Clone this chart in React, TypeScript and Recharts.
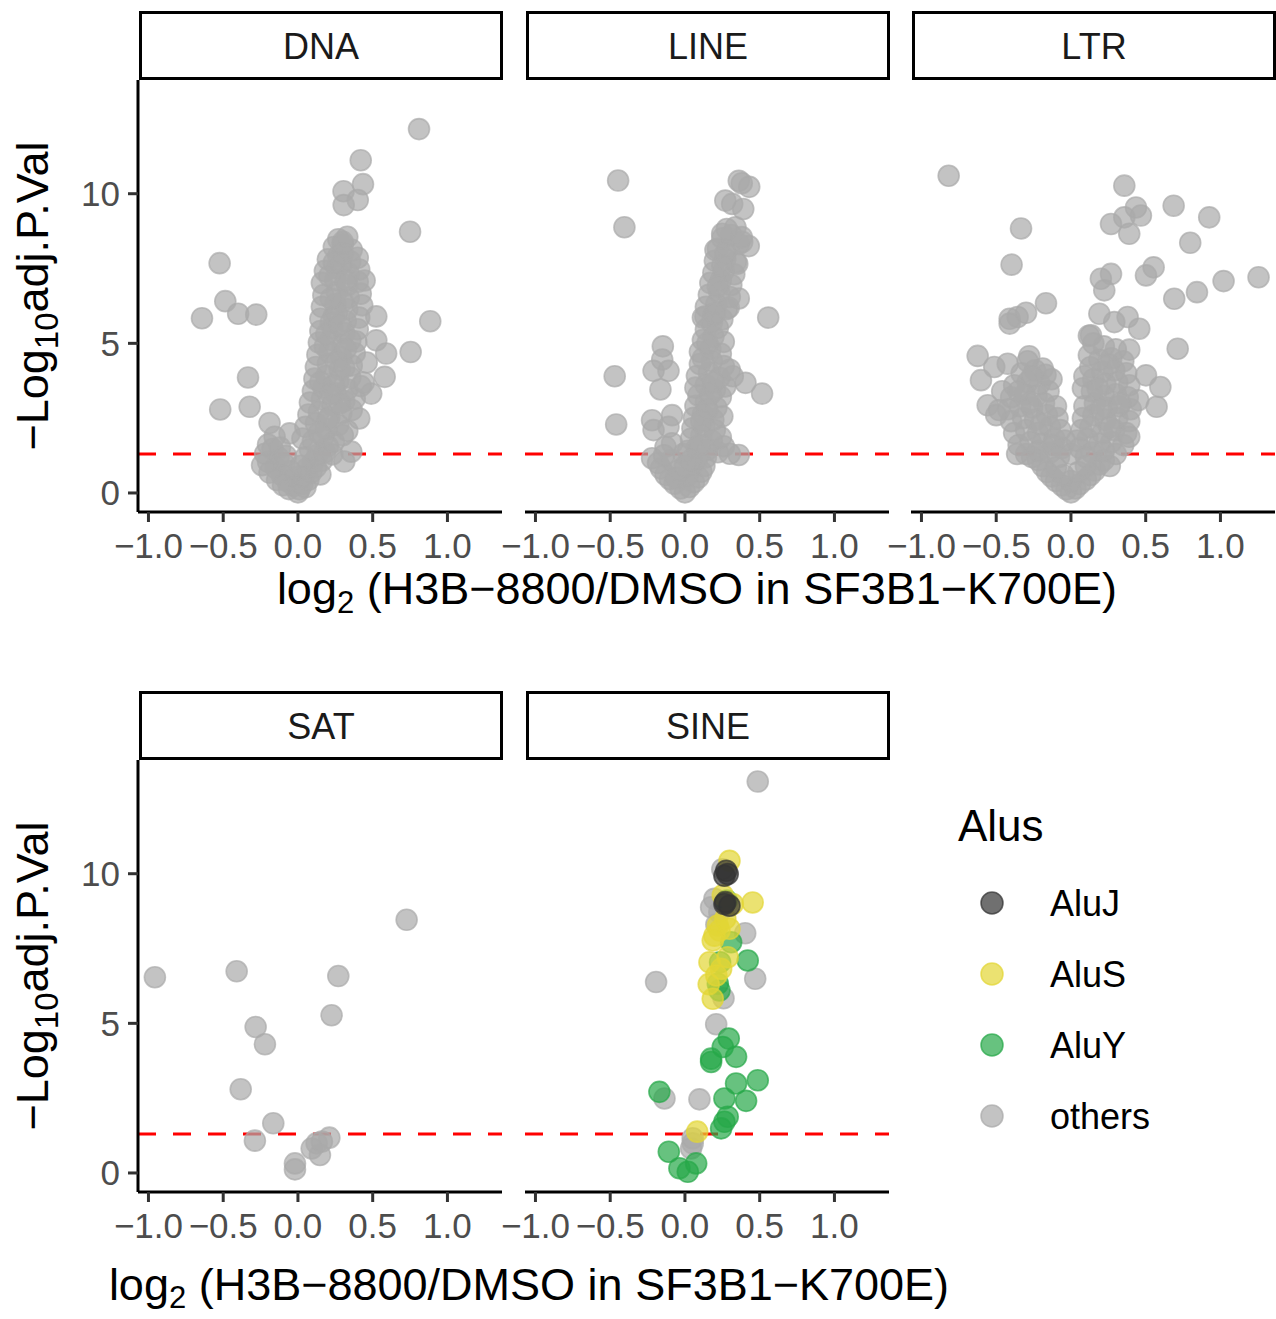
import React from 'react';
import { ScatterChart, Scatter, XAxis, YAxis, ReferenceLine } from 'recharts';

type Pt = [number, number];

// values (x = log2 FC, y = -log10 adj.P.Val)
const dnaPoints: Pt[] = [
  [0.81, 12.16], [0.42, 11.12], [0.435, 10.32], [0.305, 10.08], [0.4, 9.79], [0.306, 9.62],
  [0.75, 8.73], [-0.524, 7.68], [-0.486, 6.41], [-0.642, 5.84], [-0.4, 5.99], [-0.279, 5.96],
  [0.885, 5.74], [0.524, 5.9], [0.754, 4.71], [-0.334, 3.86], [-0.52, 2.79], [-0.323, 2.88],
  [-0.19, 2.34], [-0.056, 1.99], [-0.156, 1.88], [0.59, 4.66], [0.58, 3.88], [0.49, 3.32],
  [0.41, 2.49], [0.357, 1.38], [0.524, 5.1], [0.446, 7.1], [0.31, 1.05],
  [-0.22, 1.31], [-0.2, 1.04], [-0.17, 1.47], [-0.15, 0.84], [-0.13, 1.18], [-0.11, 0.61],
  [-0.09, 0.96], [-0.07, 0.39], [-0.05, 0.72], [-0.03, 0.24], [-0.02, 0.52], [-0.24, 0.93],
  [-0.19, 0.68], [-0.14, 0.43], [-0.1, 0.26], [-0.06, 0.13], [-0.2, 1.62], [-0.12, 1.52], [-0.08, 1.24],
  [0, 0.02], [0.01, 0.12], [0.03, 0.31], [0.05, 0.19], [0.04, 0.56], [0.07, 0.44], [0.06, 0.82],
  [0.09, 0.69], [0.1, 1.02], [0.12, 0.86], [0.13, 1.27], [0.16, 1.08], [0.02, 0.91], [0.05, 1.19],
  [0.08, 1.46], [0.18, 1.36], [0.15, 0.62], [0.2, 1.57], [0.23, 1.29],
  [0.03, 1.82], [0.1, 1.74], [0.17, 1.88], [0.24, 1.71], [0.3, 1.93],
  [0.05, 2.21], [0.12, 2.33], [0.19, 2.14], [0.27, 2.27], [0.33, 2.08],
  [0.07, 2.62], [0.14, 2.71], [0.21, 2.53], [0.29, 2.66], [0.36, 2.77],
  [0.08, 3.02], [0.16, 3.13], [0.23, 2.94], [0.31, 3.07], [0.38, 3.16],
  [0.1, 3.41], [0.17, 3.52], [0.25, 3.33], [0.33, 3.46], [0.42, 3.57],
  [0.11, 3.82], [0.19, 3.91], [0.27, 3.74], [0.35, 3.86], [0.44, 3.69],
  [0.12, 4.21], [0.2, 4.32], [0.28, 4.13], [0.36, 4.26], [0.46, 4.36],
  [0.13, 4.62], [0.21, 4.71], [0.29, 4.54], [0.38, 4.67],
  [0.14, 5.03], [0.22, 5.12], [0.3, 4.94], [0.39, 5.06],
  [0.15, 5.41], [0.23, 5.52], [0.31, 5.34], [0.4, 5.47],
  [0.15, 5.82], [0.24, 5.91], [0.32, 5.74], [0.41, 5.86],
  [0.16, 6.22], [0.25, 6.31], [0.33, 6.14], [0.43, 6.27],
  [0.17, 6.61], [0.26, 6.72], [0.34, 6.53], [0.42, 6.66],
  [0.16, 7.02], [0.25, 7.11], [0.33, 6.94], [0.4, 7.06],
  [0.18, 7.42], [0.26, 7.51], [0.34, 7.33], [0.41, 7.47],
  [0.2, 7.81], [0.27, 7.92], [0.35, 7.74], [0.4, 7.86],
  [0.24, 8.22], [0.3, 8.31], [0.36, 8.13],
  [0.27, 8.48], [0.33, 8.56], [0.3, 8.39],
  [0.2, 2.45], [0.15, 3.7], [0.26, 4.4], [0.22, 5.7], [0.3, 6.4], [0.21, 7.25], [0.29, 7.65],
  [0.28, 3.0], [0.18, 4.9], [0.35, 5.1], [0.26, 6.0], [0.3, 8.0], [0.14, 2.0], [0.24, 3.6], [0.32, 4.8],
  [0.22, 3.3], [0.31, 4.2], [0.19, 5.3], [0.28, 5.6], [0.22, 6.5], [0.32, 7.1], [0.24, 7.7],
];

const linePoints: Pt[] = [
  [-0.447, 10.44], [-0.405, 8.88], [-0.47, 3.9], [-0.46, 2.29], [-0.148, 4.9], [-0.152, 4.46],
  [-0.21, 4.08], [-0.11, 4.08], [-0.164, 3.46], [-0.22, 2.43], [-0.086, 2.6], [-0.21, 2.1],
  [-0.11, 2.21], [-0.22, 1.16], [-0.13, 1.54], [-0.086, 1.66], [0.557, 5.86], [0.405, 3.68],
  [0.516, 3.32], [0.36, 1.27],
  [0.36, 10.43], [0.43, 10.23], [0.38, 10.35], [0.27, 9.77], [0.316, 9.66], [0.39, 9.49],
  [0.338, 8.88], [0.249, 8.66], [0.383, 8.39], [0.427, 8.25], [0.204, 8.12], [0.35, 7.66],
  [0.36, 6.5], [0.293, 6.2], [0.137, 5.9],
  [0, 0.02], [-0.03, 0.15], [0.03, 0.2], [-0.07, 0.31], [0.06, 0.36], [-0.1, 0.46], [0.09, 0.52],
  [-0.13, 0.61], [0.11, 0.71], [-0.16, 0.82], [0.13, 0.9], [-0.18, 1.0], [0.02, 0.6], [-0.04, 0.76],
  [0.05, 0.95], [-0.09, 1.1], [0.14, 1.19], [-0.14, 1.26], [0.08, 1.15], [-0.01, 1.3], [-0.06, 0.5], [0.0, 0.9],
  [0.02, 1.41], [0.08, 1.52], [0.15, 1.44], [0.22, 1.36], [0.3, 1.31], [0.26, 1.56], [0.04, 1.81],
  [0.11, 1.92], [0.18, 1.74], [0.24, 1.86], [0.05, 2.16], [0.13, 2.22], [0.2, 2.1],
  [0.06, 2.51], [0.12, 2.62], [0.19, 2.45], [0.25, 2.56], [0.07, 2.91], [0.14, 3.02], [0.21, 2.85],
  [0.24, 3.21], [0.09, 3.26],
  [0.07, 3.52], [0.14, 3.61], [0.2, 3.45], [0.27, 3.56], [0.32, 3.9], [0.08, 3.91], [0.16, 4.02],
  [0.23, 3.85], [0.1, 4.31], [0.18, 4.41], [0.26, 4.24], [0.3, 4.12],
  [0.1, 4.72], [0.17, 4.81], [0.24, 4.65], [0.12, 5.11], [0.19, 5.22], [0.26, 5.05], [0.14, 5.46], [0.22, 5.52],
  [0.12, 5.86], [0.19, 5.93], [0.25, 5.8], [0.14, 6.22], [0.21, 6.31], [0.28, 6.15], [0.16, 6.62],
  [0.23, 6.71], [0.3, 6.55], [0.17, 7.02], [0.24, 7.11], [0.31, 6.95], [0.19, 7.36], [0.26, 7.42], [0.33, 7.31],
  [0.2, 7.76], [0.27, 7.82], [0.34, 7.71], [0.22, 8.16], [0.29, 8.21], [0.36, 8.32], [0.25, 8.51],
  [0.31, 8.62], [0.38, 8.55], [0.28, 8.82],
  [0.15, 2.8], [0.12, 4.5], [0.18, 5.7], [0.22, 6.9], [0.27, 8.0], [0.1, 1.6], [0.17, 3.3],
  [0.11, 2.4], [0.19, 3.7], [0.15, 5.0], [0.2, 6.0], [0.25, 7.6], [0.04, 1.1],
];

const ltrPoints: Pt[] = [
  [-0.818, 10.6], [-0.334, 8.84], [-0.397, 7.63], [-0.167, 6.34], [-0.41, 5.82], [-0.357, 5.88],
  [-0.3, 6.02], [-0.41, 5.66],
  [0.357, 10.27], [0.435, 9.54], [0.468, 9.27], [0.357, 9.21], [0.268, 8.99], [0.39, 8.66],
  [0.687, 9.6], [0.925, 9.21], [0.798, 8.36], [0.553, 7.54], [0.502, 7.27], [0.268, 7.32],
  [0.2, 7.16], [0.223, 6.77], [1.021, 7.08], [1.255, 7.21], [0.843, 6.71], [0.691, 6.49],
  [0.714, 4.82], [0.19, 5.99], [0.379, 5.88], [0.457, 5.49], [0.29, 5.71], [0.39, 4.79],
  [0.502, 3.93], [0.598, 3.54], [0.573, 2.88], [0.134, 5.27],
  [-0.624, 4.58], [-0.602, 3.77], [-0.513, 4.21], [-0.423, 4.32], [-0.279, 4.57], [-0.189, 4.16],
  [-0.557, 2.93], [-0.48, 2.77],
  [0, 0.02], [-0.03, 0.12], [0.03, 0.15], [-0.06, 0.25], [0.06, 0.3], [-0.1, 0.4], [0.1, 0.45],
  [-0.13, 0.55], [0.13, 0.6], [-0.16, 0.7], [0.16, 0.75], [-0.19, 0.9], [0.19, 0.95], [0.0, 0.4],
  [-0.05, 0.6], [0.05, 0.7], [-0.1, 0.85], [0.1, 0.9], [-0.22, 1.1], [0.22, 1.1], [0.26, 0.9], [-0.26, 1.2],
  [-0.3, 1.3], [-0.22, 1.4], [-0.14, 1.35], [-0.06, 1.5], [0.0, 1.3], [-0.35, 1.6], [-0.27, 1.7],
  [-0.19, 1.65], [-0.11, 1.8], [-0.04, 1.75], [-0.38, 2.0], [-0.3, 2.1], [-0.22, 2.0], [-0.14, 2.2],
  [-0.07, 2.1], [-0.4, 2.4], [-0.32, 2.5], [-0.24, 2.45], [-0.16, 2.6], [-0.09, 2.5], [-0.42, 2.8],
  [-0.34, 2.9], [-0.26, 2.85], [-0.18, 3.0], [-0.1, 2.9], [-0.4, 3.2], [-0.31, 3.3], [-0.23, 3.25],
  [-0.15, 3.4], [-0.38, 3.6], [-0.29, 3.7], [-0.21, 3.65], [-0.13, 3.8], [-0.33, 4.0], [-0.24, 4.1],
  [-0.17, 3.95], [-0.29, 4.4], [-0.46, 3.4], [-0.5, 2.6], [-0.36, 1.3],
  [-0.28, 3.0], [-0.2, 2.3], [-0.12, 1.6], [-0.35, 3.4], [-0.26, 3.9], [-0.08, 1.2],
  [0.3, 1.3], [0.22, 1.4], [0.14, 1.35], [0.06, 1.5], [0.35, 1.6], [0.27, 1.7], [0.19, 1.65],
  [0.11, 1.8], [0.04, 1.75], [0.37, 2.0], [0.29, 2.1], [0.21, 2.0], [0.13, 2.2], [0.07, 2.1],
  [0.39, 2.4], [0.31, 2.5], [0.23, 2.45], [0.15, 2.6], [0.08, 2.5], [0.4, 2.8], [0.32, 2.9],
  [0.24, 2.85], [0.16, 3.0], [0.09, 2.9], [0.38, 3.2], [0.3, 3.3], [0.22, 3.25], [0.14, 3.4],
  [0.08, 3.5], [0.39, 3.6], [0.31, 3.7], [0.23, 3.65], [0.15, 3.8], [0.09, 3.9], [0.37, 4.0],
  [0.29, 4.1], [0.21, 4.05], [0.13, 4.2], [0.35, 4.4], [0.27, 4.5], [0.19, 4.45], [0.12, 4.6],
  [0.3, 4.8], [0.22, 4.9], [0.15, 5.0], [0.45, 3.1], [0.39, 1.88], [0.12, 5.25],
  [0.26, 2.2], [0.18, 3.5], [0.33, 3.0], [0.25, 4.3], [0.1, 1.2], [0.2, 2.8],
];

const satPoints: Pt[] = [
  [-0.957, 6.54], [-0.41, 6.74], [0.27, 6.58], [0.727, 8.46], [0.225, 5.27], [-0.283, 4.88],
  [-0.221, 4.3], [-0.383, 2.8], [-0.165, 1.66], [-0.288, 1.08], [0.21, 1.18], [0.125, 0.99],
  [0.092, 0.82], [0.147, 0.6], [-0.02, 0.32], [-0.02, 0.12], [0.16, 1.05],
];

const sineOthers: Pt[] = [
  [0.487, 13.08], [-0.193, 6.38], [0.47, 6.49], [0.403, 8.01], [0.258, 5.84], [0.209, 4.97],
  [-0.137, 2.49], [0.097, 2.46], [0.052, 0.99], [0.041, 0.82], [0.197, 9.16], [0.23, 8.71],
  [0.175, 8.88], [0.25, 10.15], [0.052, 1.16], [0.21, 8.3],
];
const sineAluY: Pt[] = [
  [0.309, 7.71], [0.42, 7.1], [0.235, 7.04], [0.22, 6.32], [0.231, 6.1], [0.293, 4.49],
  [0.253, 4.21], [0.175, 3.82], [0.175, 3.71], [0.342, 3.88], [0.342, 2.99], [0.487, 3.1],
  [0.264, 2.49], [0.409, 2.41], [-0.171, 2.71], [0.286, 1.88], [0.264, 1.71], [0.242, 1.49],
  [-0.108, 0.71], [-0.037, 0.16], [0.019, 0.04], [0.075, 0.32], [0.28, 9.1],
];
const sineAluS: Pt[] = [
  [0.298, 10.43], [0.453, 9.04], [0.253, 9.28], [0.32, 8.99], [0.22, 8.27], [0.197, 7.93],
  [0.231, 8.1], [0.298, 8.16], [0.186, 7.77], [0.164, 7.04], [0.286, 7.21], [0.242, 6.82],
  [0.159, 6.31], [0.186, 5.82], [0.082, 1.38], [0.27, 8.5], [0.21, 6.6],
];
const sineAluJ: Pt[] = [
  [0.276, 10.1], [0.264, 9.93], [0.286, 9.99], [0.264, 8.99], [0.298, 8.93], [0.27, 9.05],
];

const xTicks = [-1, -0.5, 0, 0.5, 1];
const yTicks = [0, 5, 10];
const sigCutoff = 1.301; // -log10(0.05)
const legendItems = ['AluJ', 'AluS', 'AluY', 'others'];

const COLORS: Record<string, string> = {
  AluJ: '#333333',
  AluS: '#E3D535',
  AluY: '#27A849',
  others: '#A9A9A9',
};

const FONT = '"Liberation Sans", Arial, Helvetica, sans-serif';
const X_DOMAIN: [number, number] = [-1.07, 1.365];
const Y_DOMAIN: [number, number] = [-0.636, 13.8];
const PANEL_W = 364;
const PANEL_H = 432;
const XAXIS_H = 70;
const YAXIS_W = 80;
const PAD_L = 40;

const toRows = (pts: Pt[]) => pts.map(([x, y]) => ({ x, y }));
const fmtX = (v: number) => (v < 0 ? '\u2212' : '') + Math.abs(v).toFixed(1);

const makeDot = (color: string) => (props: any) => {
  const { cx, cy } = props;
  if (cx == null || cy == null) return <g />;
  return (
    <circle cx={cx} cy={cy} r={10.5} fill={color} fillOpacity={0.7}
      stroke={color} strokeOpacity={0.7} strokeWidth={1.6} />
  );
};

interface Series { key: string; data: Pt[]; }
interface PanelDef { name: string; left: number; top: number; showY: boolean; series: Series[]; }

const panels: PanelDef[] = [
  { name: 'DNA', left: 138, top: 80, showY: true, series: [{ key: 'others', data: dnaPoints }] },
  { name: 'LINE', left: 525, top: 80, showY: false, series: [{ key: 'others', data: linePoints }] },
  { name: 'LTR', left: 911, top: 80, showY: false, series: [{ key: 'others', data: ltrPoints }] },
  { name: 'SAT', left: 138, top: 760, showY: true, series: [{ key: 'others', data: satPoints }] },
  {
    name: 'SINE', left: 525, top: 760, showY: false,
    series: [
      { key: 'others', data: sineOthers },
      { key: 'AluY', data: sineAluY },
      { key: 'AluS', data: sineAluS },
      { key: 'AluJ', data: sineAluJ },
    ],
  },
];

function Panel({ panel }: { panel: PanelDef }) {
  const yW = panel.showY ? YAXIS_W : 0;
  const padL = panel.showY ? 0 : PAD_L;
  return (
    <div style={{ position: 'absolute', left: panel.left - yW - padL, top: panel.top }}>
      <ScatterChart width={PANEL_W + yW + padL + 20} height={PANEL_H + XAXIS_H}
        margin={{ top: 0, right: 20, bottom: 0, left: padL }}>
        <XAxis type="number" dataKey="x" domain={X_DOMAIN} ticks={xTicks} interval={0}
          tickFormatter={fmtX} height={XAXIS_H} tickSize={10} tickMargin={11}
          axisLine={{ stroke: '#000', strokeWidth: 3 }}
          tickLine={{ stroke: '#333', strokeWidth: 3 }}
          tick={{ fontSize: 35, fill: '#4D4D4D', fontFamily: FONT }} />
        <YAxis type="number" dataKey="y" domain={Y_DOMAIN} ticks={yTicks} interval={0}
          width={yW} hide={!panel.showY} tickSize={10} tickMargin={8}
          axisLine={{ stroke: '#000', strokeWidth: 3 }}
          tickLine={{ stroke: '#333', strokeWidth: 3 }}
          tick={{ fontSize: 35, fill: '#4D4D4D', fontFamily: FONT }} />
        {panel.series.map((s) => (
          <Scatter key={s.key} data={toRows(s.data)} shape={makeDot(COLORS[s.key])}
            isAnimationActive={false} />
        ))}
        <ReferenceLine y={sigCutoff} stroke="#FF0000" strokeWidth={3} strokeDasharray="18 17" />
      </ScatterChart>
    </div>
  );
}

export default function App() {
  return (
    <div style={{ position: 'absolute', left: 0, top: 0, width: 1276, height: 1319, background: '#fff', fontFamily: FONT, overflow: 'hidden' }}>
      {panels.map((p) => <Panel key={p.name} panel={p} />)}
      <svg width={1276} height={1319} style={{ position: 'absolute', left: 0, top: 0, pointerEvents: 'none' }}>
        {panels.map((p) => (
          <g key={p.name}>
            <rect x={p.left + 2.5} y={p.top - 67.5} width={PANEL_W - 3} height={66}
              fill="#fff" stroke="#000" strokeWidth={3} />
            <text x={p.left + PANEL_W / 2 + 1} y={p.top - 21} textAnchor="middle"
              fontSize={36} fill="#1A1A1A" fontFamily={FONT}>{p.name}</text>
          </g>
        ))}
        {/* x axis titles */}
        <text x={697} y={604} textAnchor="middle" fontSize={45} fill="#000" fontFamily={FONT}>
          log<tspan fontSize={31} dy={9}>2</tspan><tspan dy={-9}> (H3B{'\u2212'}8800/DMSO in SF3B1{'\u2212'}K700E)</tspan>
        </text>
        <text x={529} y={1300} textAnchor="middle" fontSize={45} fill="#000" fontFamily={FONT}>
          log<tspan fontSize={31} dy={8}>2</tspan><tspan dy={-8}> (H3B{'\u2212'}8800/DMSO in SF3B1{'\u2212'}K700E)</tspan>
        </text>
        {/* y axis titles */}
        {[296, 976].map((cy) => (
          <text key={cy} x={48} y={cy} transform={`rotate(-90, 48, ${cy})`} textAnchor="middle"
            fontSize={45} fill="#000" fontFamily={FONT}>
            {'\u2212'}Log<tspan fontSize={33} dy={10}>10</tspan><tspan dy={-10}>adj.P.Val</tspan>
          </text>
        ))}
        {/* legend */}
        <text x={958} y={841} fontSize={44} fill="#000" fontFamily={FONT}>Alus</text>
        {legendItems.map((k, i) => {
          const cy = 903 + i * 71;
          return (
            <g key={k}>
              <circle cx={992} cy={cy} r={11} fill={COLORS[k]} fillOpacity={0.7}
                stroke={COLORS[k]} strokeOpacity={0.7} strokeWidth={1.6} />
              <text x={1050} y={cy + 13} fontSize={36} fill="#000" fontFamily={FONT}>{k}</text>
            </g>
          );
        })}
      </svg>
    </div>
  );
}
